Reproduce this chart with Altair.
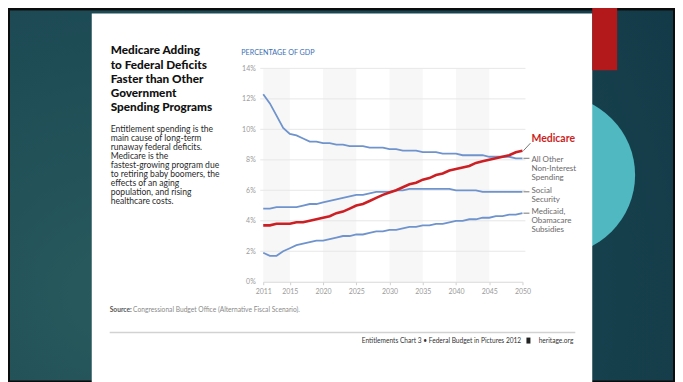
import altair as alt
import pandas as pd

# ---------------- data ----------------
YEARS = list(range(2011, 2051))
MEDICARE = [3.7, 3.7, 3.8, 3.8, 3.8, 3.9, 3.9, 4.0, 4.1, 4.2,
            4.3, 4.5, 4.6, 4.8, 5.0, 5.1, 5.3, 5.5, 5.7, 5.85,
            6.0, 6.2, 6.4, 6.5, 6.7, 6.8, 7.0, 7.1, 7.3, 7.4,
            7.5, 7.6, 7.8, 7.9, 8.0, 8.1, 8.2, 8.3, 8.5, 8.6]
ALL_OTHER = [12.3, 11.7, 10.9, 10.1, 9.7, 9.6, 9.4, 9.2, 9.2, 9.1,
             9.1, 9.0, 9.0, 8.9, 8.9, 8.9, 8.8, 8.8, 8.8, 8.7,
             8.7, 8.6, 8.6, 8.6, 8.5, 8.5, 8.5, 8.4, 8.4, 8.4,
             8.3, 8.3, 8.3, 8.3, 8.2, 8.2, 8.2, 8.2, 8.1, 8.1]
SOCIAL_SECURITY = [4.8, 4.8, 4.9, 4.9, 4.9, 4.9, 5.0, 5.1, 5.1, 5.2,
                   5.3, 5.4, 5.5, 5.6, 5.7, 5.7, 5.8, 5.9, 5.9, 5.9,
                   6.0, 6.0, 6.1, 6.1, 6.1, 6.1, 6.1, 6.1, 6.1, 6.0,
                   6.0, 6.0, 6.0, 5.9, 5.9, 5.9, 5.9, 5.9, 5.9, 5.9]
MEDICAID = [1.9, 1.7, 1.7, 2.0, 2.2, 2.4, 2.5, 2.6, 2.7, 2.7,
            2.8, 2.9, 3.0, 3.0, 3.1, 3.1, 3.2, 3.3, 3.3, 3.4,
            3.4, 3.5, 3.6, 3.6, 3.7, 3.7, 3.8, 3.8, 3.9, 4.0,
            4.0, 4.1, 4.1, 4.2, 4.2, 4.3, 4.3, 4.4, 4.4, 4.5]

BAND_START = [2011, 2020, 2030, 2040]
BAND_END = [2015, 2025, 2035, 2045]
Y_TICKS = [0, 2, 4, 6, 8, 10, 12, 14]
GRID_LINES = [2, 4, 6, 8, 10, 12, 14]
X_TICKS = [2011, 2015, 2020, 2025, 2030, 2035, 2040, 2045, 2050]

TITLE_LINES = ["Medicare Adding", "to Federal Deficits", "Faster than Other",
               "Government", "Spending Programs"]
BODY_LINES = ["Entitlement spending is the", "main cause of long-term",
              "runaway federal deficits.", "Medicare is the",
              "fastest-growing program due", "to retiring baby boomers, the",
              "effects of an aging", "population, and rising",
              "healthcare costs."]
Y_TITLE = "PERCENTAGE OF GDP"
LBL_MEDICARE = "Medicare"
LBL_OTHER = ["All Other", "Non-Interest", "Spending"]
LBL_SOCIAL = ["Social", "Security"]
LBL_MEDICAID = ["Medicaid,", "Obamacare", "Subsidies"]
SOURCE_BOLD = "Source:"
SOURCE_TEXT = "Congressional Budget Office (Alternative Fiscal Scenario)."
FOOTER_TEXT = "Entitlements Chart 3  \u2022  Federal Budget in Pictures 2012"
FOOTER_SITE = "heritage.org"

# ---------------- layout ----------------
W, H = 260, 214
FONT = "Lato"
BLUE = "#6f93cc"
RED = "#cc1f24"

x_scale = alt.Scale(domain=[2011, 2050], nice=False, zero=False)
y_scale = alt.Scale(domain=[0, 14], nice=False, zero=True)

X_AXIS = alt.Axis(values=X_TICKS, format="d", title=None, grid=False,
                  domain=True, domainColor="#d8d8d8", domainWidth=1,
                  ticks=True, tickColor="#d0d0d0", tickSize=3,
                  labelPadding=3, labelColor="#9a9a9a", labelFontSize=7,
                  labelFont=FONT, labelFlush=False, zindex=1)
Y_AXIS = alt.Axis(values=Y_TICKS, labelExpr="datum.value + '%'", title=None,
                  grid=False, domain=False, ticks=False, labelPadding=8,
                  labelColor="#9a9a9a", labelFontSize=7, labelFont=FONT,
                  zindex=1)


def px_y(v):
    return H - v / 14 * H


def deco():
    return alt.Chart(pd.DataFrame({"k": [0]}))


bg = deco().mark_rect(
    color=alt.RadialGradient(
        gradient="radial",
        stops=[alt.GradientStop(color="#285a5d", offset=0),
               alt.GradientStop(color="#1a4652", offset=0.55),
               alt.GradientStop(color="#123846", offset=1)],
        x1=0.15, y1=0.65, r1=0, x2=0.15, y2=0.65, r2=1.0)
).encode(x=alt.value(-254), x2=alt.value(411), y=alt.value(-58), y2=alt.value(313))

circle = deco().mark_point(shape="circle", filled=True, size=25600,
                           color="#4fb8c1", opacity=1, strokeWidth=0).encode(
    x=alt.value(293), y=alt.value(107))

card = deco().mark_rect(color="white").encode(
    x=alt.value(-172), x2=alt.value(330), y=alt.value(-55), y2=alt.value(320))

red_box = deco().mark_rect(color="#b3191b").encode(
    x=alt.value(330), x2=alt.value(355), y=alt.value(-61), y2=alt.value(2))

bands_df = pd.DataFrame({"s": BAND_START, "e": BAND_END})
bands = alt.Chart(bands_df).mark_rect(color="#f7f7f8").encode(
    x=alt.X("s:Q", scale=x_scale, axis=X_AXIS), x2="e:Q",
    y=alt.value(0), y2=alt.value(H))

grid_df = pd.DataFrame({"v": GRID_LINES})
grid = alt.Chart(grid_df).mark_rule(color="#e7e7e7", strokeWidth=1).encode(
    y=alt.Y("v:Q", scale=y_scale, axis=Y_AXIS),
    x=alt.value(-3), x2=alt.value(W + 3))

blue_df = pd.concat([
    pd.DataFrame({"year": YEARS, "value": ALL_OTHER, "series": "All Other"}),
    pd.DataFrame({"year": YEARS, "value": SOCIAL_SECURITY, "series": "Social Security"}),
    pd.DataFrame({"year": YEARS, "value": MEDICAID, "series": "Medicaid"}),
])
med_df = pd.DataFrame({"year": YEARS, "value": MEDICARE, "series": "Medicare"})

blue_lines = alt.Chart(blue_df).mark_line(color=BLUE, strokeWidth=1.8).encode(
    x=alt.X("year:Q", scale=x_scale, axis=X_AXIS),
    y=alt.Y("value:Q", scale=y_scale, axis=Y_AXIS),
    detail="series:N")
red_line = alt.Chart(med_df).mark_line(color=RED, strokeWidth=2.6).encode(
    x=alt.X("year:Q", scale=x_scale, axis=X_AXIS),
    y=alt.Y("value:Q", scale=y_scale, axis=Y_AXIS))


def text(lines, x, y, size, color, weight="normal", lh=None, align="left"):
    kw = dict(text=lines, font=FONT, fontSize=size, fontWeight=weight,
              color=color, align=align, baseline="alphabetic")
    if lh is not None:
        kw["lineHeight"] = lh
    return deco().mark_text(**kw).encode(x=alt.value(x), y=alt.value(y))


def leader(x1, y1, x2, y2):
    return deco().mark_rule(color="#555555", strokeWidth=0.8).encode(
        x=alt.value(x1), y=alt.value(y1), x2=alt.value(x2), y2=alt.value(y2))


title = text(TITLE_LINES, -153, -14, 11.8, "#111111", 900, 14.2)
body = text(BODY_LINES, -153, 64, 8.6, "#2a2a2a", lh=9.05)
ytitle = text(Y_TITLE, -22, -13, 7.2, "#3a70b5")

lbl_med = text(LBL_MEDICARE, 269, 74, 10.5, RED, "bold")
lbl_oth = text(LBL_OTHER, 269, 94, 8, "#6a6a6a", lh=8.8)
lbl_soc = text(LBL_SOCIAL, 269, 125, 8, "#6a6a6a", lh=8.8)
lbl_mcd = text(LBL_MEDICAID, 269, 146.5, 8, "#6a6a6a", lh=8.8)

lead_med = leader(W + 1, px_y(MEDICARE[-1]), 268, 75)
lead_oth = leader(W + 1, px_y(ALL_OTHER[-1]), 267, px_y(ALL_OTHER[-1]))
lead_soc = leader(W + 1, px_y(SOCIAL_SECURITY[-1]), 267, px_y(SOCIAL_SECURITY[-1]))
lead_mcd = leader(W + 1, px_y(MEDICAID[-1]), 267, px_y(MEDICAID[-1]))

src_b = text(SOURCE_BOLD, -154, 244.5, 6.7, "#555555", "bold")
src_t = text(SOURCE_TEXT, -130.5, 244.5, 6.7, "#8a8a8a")

sep = deco().mark_rule(color="#d2d2d2", strokeWidth=1.5).encode(
    x=alt.value(-154), x2=alt.value(313), y=alt.value(265), y2=alt.value(265))

foot = text(FOOTER_TEXT, 258.7, 275.5, 6.6, "#333333", align="right")
foot_site = text(FOOTER_SITE, 311, 275.5, 6.6, "#333333", align="right")
bell = deco().mark_rect(color="#222222").encode(
    x=alt.value(264), x2=alt.value(268), y=alt.value(270), y2=alt.value(276))

chart = alt.layer(
    bg, circle, card, red_box, bands, grid, blue_lines, red_line,
    title, body, ytitle, lbl_med, lbl_oth, lbl_soc, lbl_mcd,
    lead_med, lead_oth, lead_soc, lead_mcd, src_b, src_t, sep,
    foot, foot_site, bell
).properties(
    width=W, height=H,
    padding={"left": 256, "top": 60, "right": 153, "bottom": 100},
    autosize=alt.AutoSizeParams(type="none"),
    background="#0c0c0c",
).configure_view(stroke=None)

chart.save("out.html", embed_options={"renderer": "svg", "actions": False})
